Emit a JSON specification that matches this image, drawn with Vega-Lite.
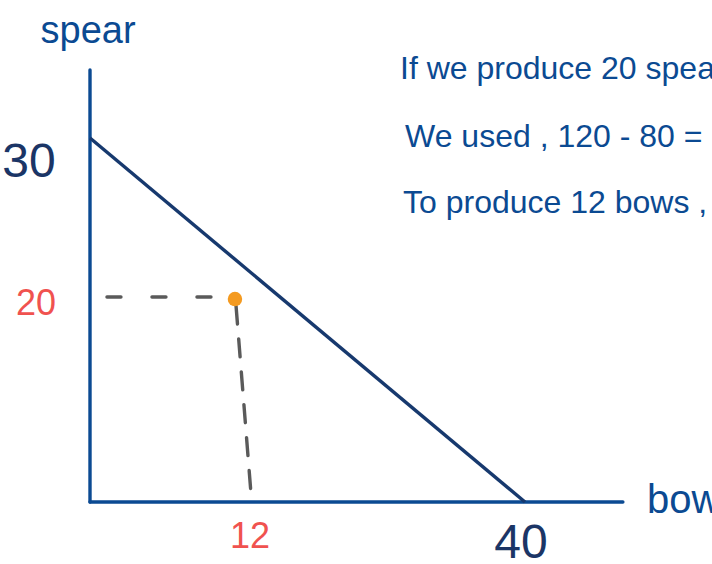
{
  "$schema": "https://vega.github.io/schema/vega-lite/v6.json",
  "width": 712,
  "height": 564,
  "autosize": "none",
  "padding": 0,
  "background": "white",
  "config": {"view": {"stroke": null}},
  "datasets": {
    "axes": [
      {"part": "yaxis", "x": 0, "y": 0},
      {"part": "yaxis", "x": 0, "y": 35.6},
      {"part": "xaxis", "x": 0, "y": 0},
      {"part": "xaxis", "x": 49.0, "y": 0}
    ],
    "ppf": [
      {"bows": 0, "spears": 30},
      {"bows": 40, "spears": 0}
    ],
    "hdash": [
      {"x": 1.56, "y": 16.9},
      {"x": 12.14, "y": 16.9}
    ],
    "vdash": [
      {"x": 13.43, "y": 16.15},
      {"x": 14.8, "y": 0.74}
    ],
    "point": [{"bows": 13.33, "spears": 16.73}],
    "bigLabels": [
      {"label": "30", "x": -5.61, "y": 26.79},
      {"label": "40", "x": 39.63, "y": -4.6}
    ],
    "redLabels": [
      {"label": "20", "x": -4.97, "y": 15.41},
      {"label": "12", "x": 14.71, "y": -3.79}
    ],
    "yTitle": [{"label": "spear", "x": -0.18, "y": 37.83}],
    "xTitle": [{"label": "bow", "x": 51.22, "y": -0.91}],
    "notes": [
      {"label": "If we produce  20 spear", "x": 28.51, "y": 34.86},
      {"label": "We  used , 120 - 80 =", "x": 28.97, "y": 29.26},
      {"label": "To produce 12 bows ,", "x": 28.78, "y": 23.82}
    ]
  },
  "layer": [
    {
      "data": {"name": "axes"},
      "mark": {"type": "line", "stroke": "#0B4A92", "strokeWidth": 3.4, "strokeCap": "round"},
      "encoding": {
        "x": {"field": "x", "type": "quantitative", "scale": {"domain": [-8.276, 57.195], "nice": false, "zero": false}, "axis": null},
        "y": {"field": "y", "type": "quantitative", "scale": {"domain": [-5.11, 41.374], "nice": false, "zero": false}, "axis": null},
        "detail": {"field": "part"}
      }
    },
    {
      "data": {"name": "ppf"},
      "mark": {"type": "line", "stroke": "#17396E", "strokeWidth": 3.4},
      "encoding": {
        "x": {"field": "bows", "type": "quantitative"},
        "y": {"field": "spears", "type": "quantitative"}
      }
    },
    {
      "data": {"name": "hdash"},
      "mark": {"type": "line", "stroke": "#5A5A5A", "strokeWidth": 3.4, "strokeDash": [14, 31], "strokeCap": "round"},
      "encoding": {
        "x": {"field": "x", "type": "quantitative"},
        "y": {"field": "y", "type": "quantitative"}
      }
    },
    {
      "data": {"name": "vdash"},
      "mark": {"type": "line", "stroke": "#5A5A5A", "strokeWidth": 3.4, "strokeDash": [18, 15], "strokeCap": "round"},
      "encoding": {
        "x": {"field": "x", "type": "quantitative"},
        "y": {"field": "y", "type": "quantitative"}
      }
    },
    {
      "data": {"name": "point"},
      "mark": {"type": "circle", "color": "#F49A20", "opacity": 1, "size": 210},
      "encoding": {
        "x": {"field": "bows", "type": "quantitative"},
        "y": {"field": "spears", "type": "quantitative"}
      }
    },
    {
      "data": {"name": "bigLabels"},
      "mark": {"type": "text", "color": "#1B3566", "align": "center", "baseline": "alphabetic", "fontSize": 48, "font": "Liberation Sans"},
      "encoding": {
        "x": {"field": "x", "type": "quantitative"},
        "y": {"field": "y", "type": "quantitative"},
        "text": {"field": "label"}
      }
    },
    {
      "data": {"name": "redLabels"},
      "mark": {"type": "text", "color": "#F0524F", "align": "center", "baseline": "alphabetic", "fontSize": 36, "font": "Liberation Sans"},
      "encoding": {
        "x": {"field": "x", "type": "quantitative"},
        "y": {"field": "y", "type": "quantitative"},
        "text": {"field": "label"}
      }
    },
    {
      "data": {"name": "yTitle"},
      "mark": {"type": "text", "color": "#0B4A92", "align": "center", "baseline": "alphabetic", "fontSize": 38, "font": "Liberation Sans"},
      "encoding": {
        "x": {"field": "x", "type": "quantitative"},
        "y": {"field": "y", "type": "quantitative"},
        "text": {"field": "label"}
      }
    },
    {
      "data": {"name": "xTitle"},
      "mark": {"type": "text", "color": "#0B4A92", "align": "left", "baseline": "alphabetic", "fontSize": 40, "font": "Liberation Sans"},
      "encoding": {
        "x": {"field": "x", "type": "quantitative"},
        "y": {"field": "y", "type": "quantitative"},
        "text": {"field": "label"}
      }
    },
    {
      "data": {"name": "notes"},
      "mark": {"type": "text", "color": "#0B4A92", "align": "left", "baseline": "alphabetic", "fontSize": 32, "font": "Liberation Sans"},
      "encoding": {
        "x": {"field": "x", "type": "quantitative"},
        "y": {"field": "y", "type": "quantitative"},
        "text": {"field": "label"}
      }
    }
  ]
}
